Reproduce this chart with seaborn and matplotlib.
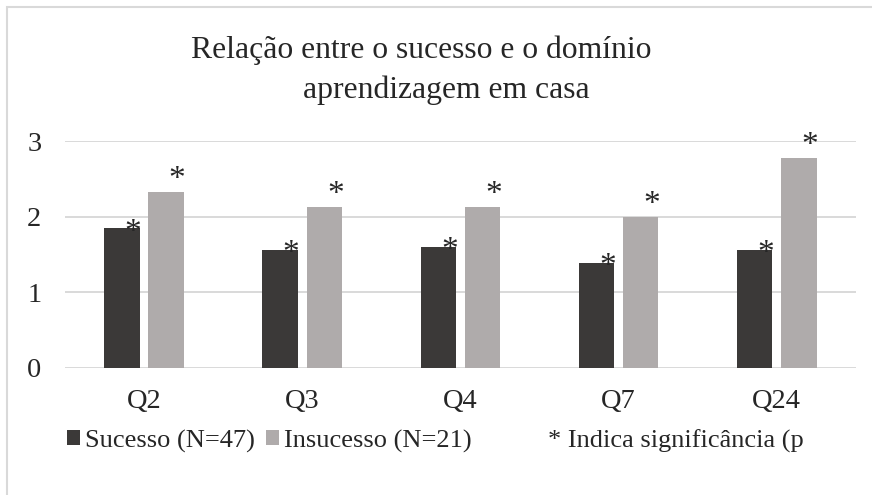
import pandas as pd
import matplotlib.pyplot as plt
import seaborn as sns
from matplotlib.patches import Patch, Rectangle

questoes = ['Q2', 'Q3', 'Q4', 'Q7', 'Q24']
sucesso = [1.85, 1.56, 1.60, 1.39, 1.56]
insucesso = [2.33, 2.13, 2.13, 2.00, 2.78]
grupos = ['Sucesso (N=47)', 'Insucesso (N=21)']
titulo = ['Relação entre o sucesso e o domínio', 'aprendizagem em casa']
nota = '* Indica significância (p'

df = pd.DataFrame({
    'questao': questoes * 2,
    'media': sucesso + insucesso,
    'grupo': [grupos[0]] * len(questoes) + [grupos[1]] * len(questoes),
})

sns.set_style('white')
plt.rcParams['font.family'] = ['Liberation Serif', 'DejaVu Serif']

cores = ['#3B3938', '#AFABAB']

fig = plt.figure(figsize=(8.72, 4.95), dpi=100)
ax = fig.add_axes([0.0745, 0.2566, 0.907, 0.4586])

sns.barplot(data=df, x='questao', y='media', hue='grupo', palette=cores,
            width=0.56, gap=0.2, saturation=1, linewidth=0, legend=False, ax=ax)

ax.set_ylim(-0.005, 3.005)
ax.set_yticks([0, 1, 2, 3])
ax.set_xlabel('')
ax.set_ylabel('')
ax.yaxis.grid(True, color='#D9D9D9', linewidth=1.4)
ax.set_axisbelow(True)
for s in ax.spines.values():
    s.set_visible(False)
ax.tick_params(axis='y', length=0, pad=17, labelsize=20.5)
ax.tick_params(axis='x', length=0, pad=15, labelsize=20.5)

# asteriscos de significancia
for container, off in zip(ax.containers, [-9, 3]):
    for bar in container:
        x = bar.get_x() + bar.get_width() * 0.81
        ax.annotate('*', xy=(x, bar.get_height()), xytext=(0, off),
                    textcoords='offset points', ha='center', va='baseline',
                    fontsize=24)

fig.text(421 / 872, 1 - 58 / 495, titulo[0], ha='center', va='baseline', fontsize=22.8)
fig.text(446 / 872, 1 - 98 / 495, titulo[1], ha='center', va='baseline', fontsize=22.8)

handles = [Patch(facecolor=c, edgecolor='none') for c in cores]
fig.legend(handles, grupos, loc='center left', bbox_to_anchor=(67 / 872, 1 - 441 / 495),
           ncol=2, frameon=False, fontsize=19, handlelength=0.5, handleheight=0.5,
           handletextpad=0.2, columnspacing=0.4, borderpad=0, borderaxespad=0)
fig.text(548 / 872, 1 - 441 / 495, nota, ha='left', va='center', fontsize=19)

fig.add_artist(Rectangle((7 / 872, -0.1), 1.2, 1 - 7 / 495 + 0.1, transform=fig.transFigure,
                         fill=False, edgecolor='#D9D9D9', linewidth=1.5))

fig.savefig('out.png', dpi=100)
